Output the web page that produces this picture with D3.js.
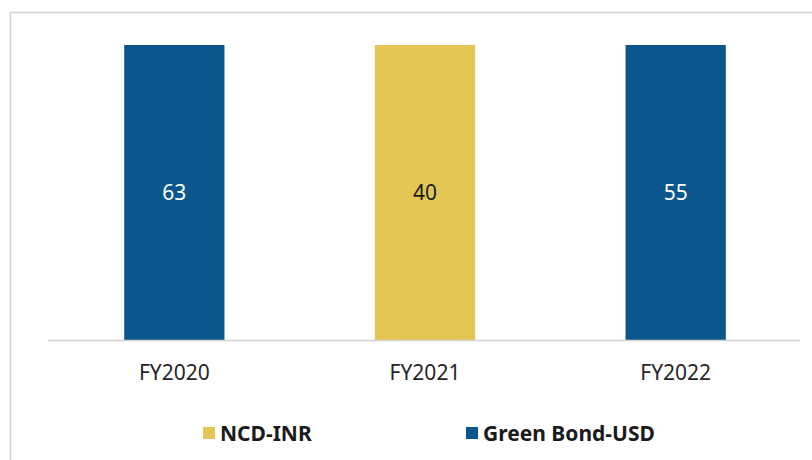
<!DOCTYPE html>
<html>
<head>
<meta charset="utf-8">
<script src="https://cdn.jsdelivr.net/npm/d3@7"></script>
<style>
  body { margin: 0; background: #fff; }
  svg { display: block; font-family: "Noto Sans", "Open Sans", sans-serif; }
</style>
</head>
<body>
<div id="chart"></div>
<script>
// data
var years = ['FY2020', 'FY2021', 'FY2022'];
var issueSeries = ['Green Bond-USD', 'NCD-INR', 'Green Bond-USD'];
var amounts = [63, 40, 55];
var sharePct = [100, 100, 100];
var legendNames = ['NCD-INR', 'Green Bond-USD'];

var W = 812, H = 460;
var color = d3.scaleOrdinal()
  .domain(legendNames)
  .range(['#e3c653', '#0b568c']);

var svg = d3.select('#chart').append('svg')
  .attr('width', W)
  .attr('height', H);

// outer frame (runs off the picture on the right and bottom)
svg.append('rect')
  .attr('x', 10.5)
  .attr('y', 12.5)
  .attr('width', 830)
  .attr('height', 480)
  .attr('fill', 'none')
  .attr('stroke', '#d4d4d4')
  .attr('stroke-width', 1.5);

var xScale = d3.scaleBand()
  .domain(years)
  .range([49, 801])
  .paddingInner(0.6)
  .paddingOuter(0.3);

var yScale = d3.scaleLinear()
  .domain([0, 100])
  .range([340, 45]);

var rows = years.map(function (y, i) {
  return { year: y, series: issueSeries[i], amount: amounts[i], share: sharePct[i] };
});

// bars
svg.selectAll('rect.bar')
  .data(rows)
  .enter()
  .append('rect')
  .attr('class', 'bar')
  .attr('x', function (d) { return xScale(d.year); })
  .attr('width', xScale.bandwidth())
  .attr('y', function (d) { return yScale(d.share); })
  .attr('height', function (d) { return yScale(0) - yScale(d.share); })
  .attr('fill', function (d) { return color(d.series); });

// value labels
svg.selectAll('text.val')
  .data(rows)
  .enter()
  .append('text')
  .attr('class', 'val')
  .attr('x', function (d) { return xScale(d.year) + xScale.bandwidth() / 2; })
  .attr('y', function (d) { return (yScale(d.share) + yScale(0)) / 2 + 7.5; })
  .attr('text-anchor', 'middle')
  .attr('font-size', '21px')
  .attr('fill', function (d) { return d.series === 'NCD-INR' ? '#1a1a1a' : '#ffffff'; })
  .text(function (d) { return d.amount; });

// x axis
var xAxis = svg.append('g')
  .attr('transform', 'translate(0,' + yScale(0) + ')')
  .call(d3.axisBottom(xScale).tickSize(0).tickPadding(25));
xAxis.select('.domain')
  .attr('d', 'M48,0.5H800')
  .attr('stroke', '#d4d4d4')
  .attr('stroke-width', 1.5);
xAxis.selectAll('text')
  .attr('font-size', '21px')
  .attr('font-family', '"Noto Sans", sans-serif')
  .attr('fill', '#262626');

// legend
var legendX = [203, 466];
var legend = svg.selectAll('g.leg')
  .data(legendNames)
  .enter()
  .append('g')
  .attr('class', 'leg')
  .attr('transform', function (d, i) { return 'translate(' + legendX[i] + ',427)'; });
legend.append('rect')
  .attr('width', 12)
  .attr('height', 12)
  .attr('fill', function (d) { return color(d); });
legend.append('text')
  .attr('x', 17)
  .attr('y', 13.5)
  .attr('font-size', '21px')
  .attr('font-weight', 'bold')
  .attr('fill', '#1a1a1a')
  .text(function (d) { return d; });
</script>
</body>
</html>
